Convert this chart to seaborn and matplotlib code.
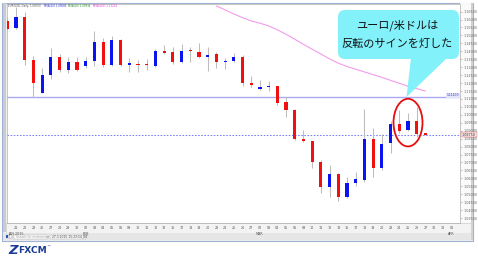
import matplotlib
matplotlib.use("Agg")
import matplotlib.pyplot as plt
import seaborn as sns
import pandas as pd
import numpy as np
from matplotlib.patches import Rectangle, Ellipse, FancyBboxPatch, Polygon

# ---------------- data (EUR/USD daily) ----------------
opens  = [1.1593, 1.1545, 1.1614, 1.1346, 1.1140, 1.1251, 1.1367, 1.1283, 1.1331, 1.1308,
          1.1339, 1.1457, 1.1314, 1.1472, 1.1316, 1.1322, 1.1320, 1.1310, 1.1404, 1.1398,
          1.1331, 1.1406, 1.1398, 1.1367, 1.1381, 1.1333, 1.1339, 1.1362, 1.1203, 1.1161,
          1.1178, 1.1182, 1.1079, 1.1031, 1.0846, 1.0833, 1.0703, 1.0543, 1.0627, 1.0480,
          1.0569, 1.0590, 1.0848, 1.0667, 1.0821, 1.0942, 1.0905, 1.0959, 1.0884]
highs  = [1.1608, 1.1682, 1.1650, 1.1371, 1.1293, 1.1419, 1.1383, 1.1362, 1.1362, 1.1362,
          1.1528, 1.1482, 1.1497, 1.1476, 1.1356, 1.1346, 1.1350, 1.1413, 1.1440, 1.1430,
          1.1446, 1.1425, 1.1451, 1.1430, 1.1394, 1.1356, 1.1388, 1.1377, 1.1245, 1.1220,
          1.1215, 1.1184, 1.1115, 1.1035, 1.0905, 1.0837, 1.0716, 1.0684, 1.0632, 1.0611,
          1.0642, 1.1037, 1.0915, 1.0879, 1.0963, 1.1031, 1.1010, 1.1047, 1.0888]
lows   = [1.1535, 1.1539, 1.1314, 1.1110, 1.1136, 1.1224, 1.1272, 1.1262, 1.1276, 1.1297,
          1.1310, 1.1304, 1.1310, 1.1310, 1.1272, 1.1272, 1.1283, 1.1304, 1.1383, 1.1318,
          1.1325, 1.1331, 1.1356, 1.1278, 1.1293, 1.1287, 1.1333, 1.1182, 1.1173, 1.1157,
          1.1152, 1.1060, 1.0984, 1.0842, 1.0829, 1.0663, 1.0506, 1.0485, 1.0459, 1.0474,
          1.0552, 1.0579, 1.0611, 1.0653, 1.0762, 1.0884, 1.0898, 1.0863, 1.0871]
closes = [1.1541, 1.1614, 1.1346, 1.1203, 1.1249, 1.1367, 1.1283, 1.1331, 1.1283, 1.1339,
          1.1457, 1.1314, 1.1472, 1.1314, 1.1325, 1.1314, 1.1312, 1.1404, 1.1392, 1.1331,
          1.1404, 1.1400, 1.1362, 1.1379, 1.1335, 1.1341, 1.1362, 1.1203, 1.1190, 1.1173,
          1.1182, 1.1077, 1.1031, 1.0846, 1.0833, 1.0703, 1.0543, 1.0627, 1.0485, 1.0569,
          1.0594, 1.0848, 1.0667, 1.0816, 1.0942, 1.0901, 1.0959, 1.0879, 1.0875]

ma_start = 24
ma_values = [1.1686, 1.1661, 1.1635, 1.1612, 1.1591, 1.1577, 1.1560, 1.1535, 1.1507, 1.1476,
             1.1444, 1.1413, 1.1383, 1.1352, 1.1325, 1.1304, 1.1287, 1.1270, 1.1253, 1.1236,
             1.1217, 1.1199, 1.1180, 1.1165, 1.1150]

date_labels = ["21", "22", "23", "26", "27", "28", "29", "30",
               "02", "03", "04", "05", "06", "09", "10", "11", "12", "13", "16", "17",
               "18", "19", "20", "23", "24", "25", "26", "27",
               "02", "03", "04", "05", "06", "09", "10", "11", "12", "13", "16", "17",
               "18", "19", "20", "23", "24", "25", "26", "27",
               "30", "31", "01"]
month_labels = {1: "JAN 2015", 9: "FEB", 29: "MAR", 51: "APR"}

support_level = 1.1110
last_price = 1.0875
y_ticks = [round(1.035 + 0.005 * k, 3) for k in range(27)]

header_parts = [("EUR/USD, Daily, 1.08750", "#555555"),
                ("MVA(10) 1.09085", "#3333CC"),
                ("MVA(20) 1.09934", "#2A8A2A"),
                ("MVA(200) 1.13214", "#E040D0")]

callout_lines = ["ユーロ/米ドルは", "反転のサインを灯した"]

# ---------------- figure ----------------
sns.set_style("white")
plt.rcParams['font.family'] = ['DejaVu Sans']
W, H = 478, 262
fig = plt.figure(figsize=(W / 100, H / 100), dpi=100)
fig.patch.set_facecolor("white")

# background overlay in pixel units
bg = fig.add_axes([0, 0, 1, 1], zorder=0)
bg.set_xlim(0, W); bg.set_ylim(H, 0); bg.axis("off")
bg.add_patch(Rectangle((2.5, 2.5), 471, 238.5, facecolor="#EEEEEE", edgecolor="#9FB2D4", lw=0.8))
bg.add_patch(Rectangle((3, 3), 3.2, 229, facecolor="#C9CBD3", edgecolor="none"))
bg.add_patch(Rectangle((460, 3), 11, 220, facecolor="#FAFAFA", edgecolor="none"))
bg.add_patch(Rectangle((471, 3), 2.5, 237, facecolor="#D2D2D6", edgecolor="none"))
bg.add_patch(Rectangle((6.5, 223), 465, 9.5, facecolor="#F3F3F3", edgecolor="#C8C8C8", lw=0.4))
bg.add_patch(Rectangle((3, 233), 468, 7, facecolor="#E6E6E6", edgecolor="none"))
# status bar
bg.add_patch(Rectangle((6, 235.3), 2.3, 2.3, facecolor="#2850C0", edgecolor="none"))
bg.add_patch(Rectangle((9.5, 235.3), 2.3, 2.3, facecolor="white", edgecolor="#888888", lw=0.3))
bg.add_patch(Rectangle((14.5, 234.5), 33, 4, facecolor="white", edgecolor="#AAAAAA", lw=0.3))
bg.text(16, 236.6, "Search for instrument", fontsize=2.2, color="#999999", va="center")
bg.add_patch(Rectangle((50, 234.5), 36, 4, facecolor="#F4F4F4", edgecolor="#BBBBBB", lw=0.3))
bg.text(52, 236.6, "27.3.2015 15:23:54 JST", fontsize=2.2, color="#444444", va="center")
# FXCM logo
bg.text(8.0, 250.5, "Z", fontsize=9.5, fontweight="bold", color="#1B3C96", va="center", ha="left",
        fontstyle="italic")
bg.text(18, 250.5, "FXCM", fontsize=6.6, fontweight="bold", color="#1B3C96", va="center", ha="left")
bg.text(46.5, 246.5, "™", fontsize=3, color="#1B3C96", va="center", ha="left")

# main chart axes
x0, x1, ytop, ybot = 7, 460, 3.5, 223
ax = fig.add_axes([x0 / W, (H - ybot) / H, (x1 - x0) / W, (ybot - ytop) / H], zorder=5)
ax.set_facecolor("white")

n = len(opens)
df = pd.DataFrame({"idx": np.arange(n), "open": opens, "high": highs, "low": lows, "close": closes})
up = df["close"] >= df["open"]
colors = np.where(up, "#0A14F0", "#F01010")

# wicks
ax.vlines(df["idx"], df["low"], df["high"], color="#BDBDBD", lw=0.75, zorder=2)
# bodies
bottoms = np.minimum(df["open"], df["close"])
heights = np.maximum(np.abs(df["close"] - df["open"]), 0.0003)
ax.bar(df["idx"], heights, bottom=bottoms, width=0.36, color=colors, edgecolor="none", zorder=3)

# moving average
ma_df = pd.DataFrame({"idx": np.arange(ma_start, ma_start + len(ma_values)), "ma": ma_values})
sns.lineplot(data=ma_df, x="idx", y="ma", ax=ax, color="#F39BEB", lw=0.8, zorder=2)

# horizontal lines
ax.axhline(support_level, color="#A9A9F2", lw=1.0, zorder=1)
ax.axhline(last_price, color="#7C7CFF", lw=0.75, ls=(0, (1.5, 1.5)), zorder=1)

ax.set_xlim(-0.04, 51.97)
ax.set_ylim(1.0319, 1.1701)

# axis styling
for s in ax.spines.values():
    s.set_color("#B0B0B0"); s.set_linewidth(0.5)
ax.yaxis.tick_right()
ax.set_yticks(y_ticks)
ax.set_yticklabels([f"{v:.5f}" for v in y_ticks], fontsize=2.4, color="#666666")
ax.tick_params(axis="y", length=1.5, width=0.4, color="#D08080", pad=0.8)
ax.set_xticks(range(1, 52))
xl = []
for i, lab in enumerate(date_labels, start=1):
    xl.append(lab + ("\n" + month_labels[i] if i in month_labels else ""))
ax.set_xticklabels(xl, fontsize=2.4, color="#555555", linespacing=1.6)
ax.tick_params(axis="x", length=1.2, width=0.4, color="#D08080", pad=0.8)
ax.set_xlabel(""); ax.set_ylabel("")
ax.grid(False)

# price labels at right
ax.text(51.9, support_level, "1.11100", fontsize=2.2, color="#3030C0", ha="right", va="bottom",
        bbox=dict(boxstyle="square,pad=0.15", fc="#E4E4FA", ec="none"), zorder=6)
ax.annotate("1.08750", xy=(1.0, last_price), xycoords=("axes fraction", "data"),
            xytext=(1.5, 0), textcoords="offset points", fontsize=2.4, color="#333333",
            va="center", ha="left", annotation_clip=False,
            bbox=dict(boxstyle="square,pad=0.2", fc="#FBE4E4", ec="#E06060", lw=0.3))

# red ellipse around last candles
ax.add_patch(Ellipse((46, 1.0951), 3.33, 0.0300, fill=False, edgecolor="#E41010", lw=1.3, zorder=8))

# foreground overlay (pixel units)
fg = fig.add_axes([0, 0, 1, 1], zorder=10)
fg.set_xlim(0, W); fg.set_ylim(H, 0); fg.axis("off"); fg.patch.set_alpha(0)

# header text, placed one after another using measured widths
renderer = fig.canvas.get_renderer()
hx = 8.5
for txt, col in header_parts:
    t = fg.text(hx, 5.8, txt, fontsize=1.9, color=col, va="center")
    bb = t.get_window_extent(renderer=renderer)
    hx += bb.width + 2.5

# callout
fg.add_patch(Polygon([(411, 58), (447, 58), (406.5, 97)], closed=True, fc="#82F1FA", ec="none"))
fg.add_patch(FancyBboxPatch((338, 10), 121, 49, boxstyle="round,pad=0,rounding_size=7",
                            fc="#82F1FA", ec="none"))
fg.text(397.5, 25, callout_lines[0], fontsize=8, ha="center", va="center",
        family=["Noto Sans CJK JP", "DejaVu Sans"], color="#111111")
fg.text(397.5, 43.5, callout_lines[1], fontsize=8, ha="center", va="center",
        family=["Noto Sans CJK JP", "DejaVu Sans"], color="#111111")

fig.savefig("out.png", dpi=100)
